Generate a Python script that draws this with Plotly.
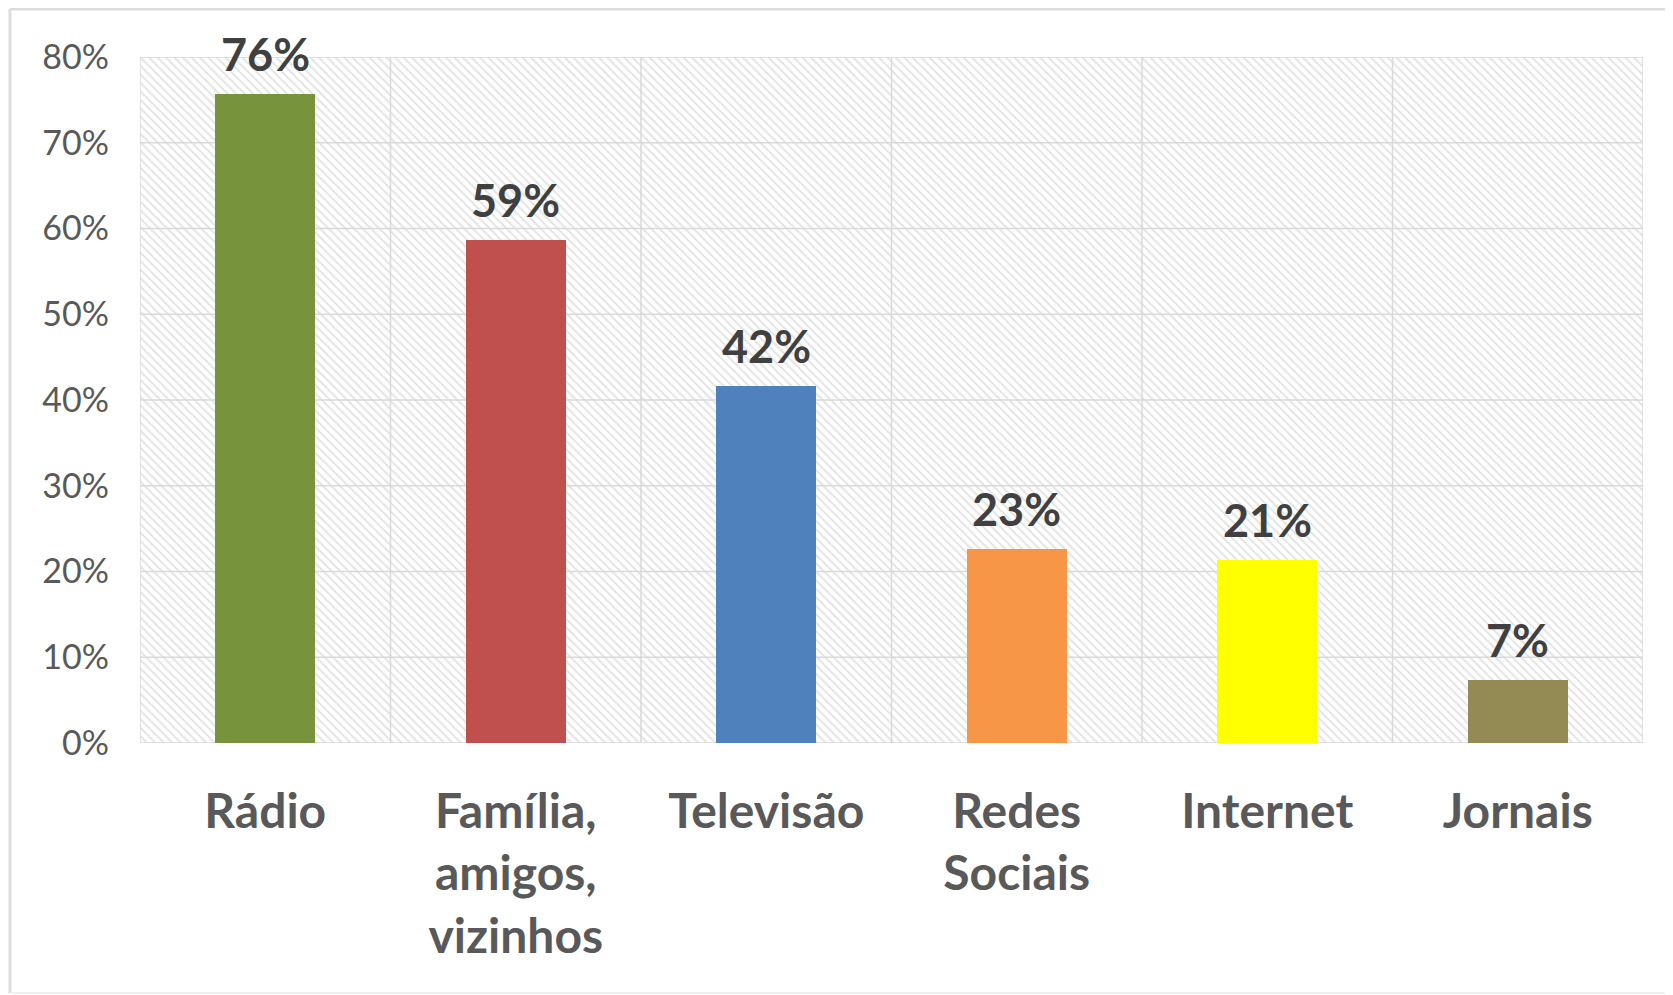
import plotly.graph_objects as go

categories = ["Rádio", "Família,<br>amigos,<br>vizinhos", "Televisão", "Redes<br>Sociais", "Internet", "Jornais"]
values = [75.7, 58.7, 41.6, 22.6, 21.3, 7.3]
colors = ["#77933C", "#C0504D", "#4F81BD", "#F79646", "#FFFF00", "#948A54"]
y_ticks = [0, 10, 20, 30, 40, 50, 60, 70, 80]
y_ticklabels = [f"{v}%" for v in y_ticks]

n = len(categories)
xs = list(range(n))
x_lo, x_hi = -0.5, n - 0.5
y_lo, y_hi = y_ticks[0], y_ticks[-1]

FONT = "Lato"
GRID = "#d9d9d9"

fig = go.Figure()

# hatched plot background (base subplot)
fig.add_trace(go.Scatter(
    x=[x_lo, x_hi, x_hi, x_lo, x_lo], y=[y_lo, y_lo, y_hi, y_hi, y_lo],
    mode="lines", line=dict(width=0), fill="toself", fillcolor="white",
    fillpattern=dict(shape="\\", fgcolor="#c8c8c8", bgcolor="white", size=6, solidity=0.33),
    hoverinfo="skip", showlegend=False, xaxis="x", yaxis="y"))

# gridlines above hatch
gx, gy = [], []
for t in y_ticks:
    gx += [x_lo, x_hi, None]
    gy += [t, t, None]
for k in range(n + 1):
    xv = x_lo + k
    gx += [xv, xv, None]
    gy += [y_lo, y_hi, None]
fig.add_trace(go.Scatter(x=gx, y=gy, mode="lines", line=dict(color=GRID, width=1.5),
                         hoverinfo="skip", showlegend=False, xaxis="x", yaxis="y"))

# bars on overlay subplot
fig.add_trace(go.Bar(
    x=xs, y=values, width=0.4, marker=dict(color=colors, line=dict(width=0)),
    showlegend=False, xaxis="x2", yaxis="y2"))

for xv, v in zip(xs, values):
    fig.add_annotation(x=xv, y=v, xref="x2", yref="y2", text=f"<b>{v:.0f}%</b>",
                       showarrow=False, yanchor="bottom", yshift=11,
                       font=dict(family=FONT, size=45, color="#404040"))

axis_common = dict(range=[x_lo, x_hi], showgrid=False, zeroline=False, fixedrange=True)
fig.update_layout(
    width=1665, height=987,
    margin=dict(l=132, r=30, t=49, b=252),
    paper_bgcolor="white", plot_bgcolor="white",
    xaxis=dict(**axis_common, tickmode="array", tickvals=xs,
               ticktext=[f"<b>{c}</b>" for c in categories],
               tickfont=dict(family=FONT, size=48, color="#595959"),
               ticks="", ticklabelstandoff=36, showline=False),
    yaxis=dict(range=[y_lo, y_hi], showgrid=False, zeroline=False, tickmode="array",
               tickvals=y_ticks, ticktext=y_ticklabels,
               tickfont=dict(family=FONT, size=34, color="#595959"),
               ticks="", ticklabelstandoff=30, showline=False),
    xaxis2=dict(range=[x_lo, x_hi], overlaying="x", showgrid=False, zeroline=False,
                showticklabels=False, visible=False),
    yaxis2=dict(range=[y_lo, y_hi], overlaying="y", showgrid=False, zeroline=False,
                showticklabels=False, visible=False),
    bargap=0,
)

# outer frame: top and left edges visible, bottom faint
fx0 = -130 / 1503
fy1 = 1.0 + 48 / 686
fy0 = -250 / 686
fig.add_shape(type="line", xref="paper", yref="paper", x0=fx0, x1=1.0 + 30 / 1503, y0=fy1, y1=fy1,
              line=dict(color="#dcdcdc", width=3), layer="below")
fig.add_shape(type="line", xref="paper", yref="paper", x0=fx0, x1=fx0, y0=fy0, y1=fy1,
              line=dict(color="#dcdcdc", width=3), layer="below")
fig.add_shape(type="line", xref="paper", yref="paper", x0=fx0, x1=1.0 + 30 / 1503, y0=fy0, y1=fy0,
              line=dict(color="#f0f0f0", width=2), layer="below")

fig.write_html("out.html")
